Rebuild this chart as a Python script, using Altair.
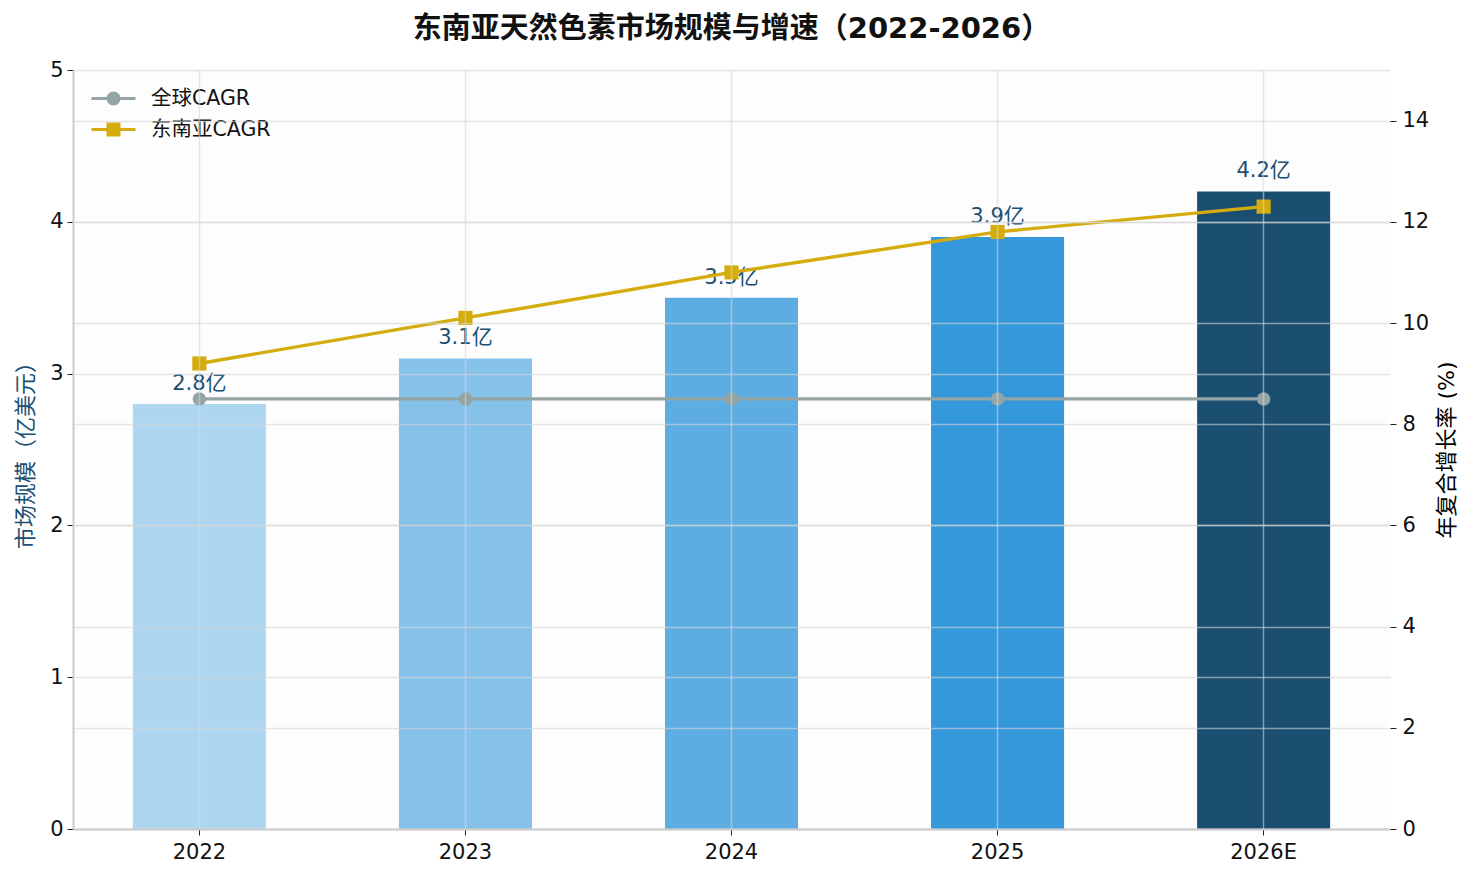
import altair as alt
import pandas as pd

years = ["2022", "2023", "2024", "2025", "2026E"]
market_size = [2.8, 3.1, 3.5, 3.9, 4.2]
size_labels = ["2.8亿", "3.1亿", "3.5亿", "3.9亿", "4.2亿"]
bar_colors = ["#AED6F1", "#85C1E9", "#5DADE2", "#3498DB", "#1B4F72"]

series_names = ["全球CAGR", "东南亚CAGR"]
series_colors = ["#95A5A6", "#D4AC0D"]
global_cagr = [8.5, 8.5, 8.5, 8.5, 8.5]
sea_cagr = [9.2, 10.1, 11.0, 11.8, 12.3]

FONT = "DejaVu Sans, Noto Sans CJK SC"
LABEL_BLUE = "#1B4F72"
GRID = dict(grid=True, gridColor="#d5d5d5", gridOpacity=0.6, gridWidth=1.5, zindex=1)

bar_df = pd.DataFrame({"year": years, "size": market_size, "label": size_labels})
cagr_df = pd.DataFrame({
    "year": years * 2,
    "cagr": global_cagr + sea_cagr,
    "series": [series_names[0]] * 5 + [series_names[1]] * 5,
})

x_enc = alt.X(
    "year:N", sort=years, title=None,
    scale=alt.Scale(paddingInner=0.5, paddingOuter=0.225),
    axis=alt.Axis(labelAngle=0, bandPosition=0.5, domainColor="#cccccc", domainWidth=2,
                  tickColor="#222222", tickSize=6, labelPadding=6, **GRID),
)

bars = alt.Chart(bar_df).mark_bar().encode(
    x=x_enc,
    y=alt.Y("size:Q", title="市场规模（亿美元）", scale=alt.Scale(domain=[0, 5], nice=False),
            axis=alt.Axis(values=[0, 1, 2, 3, 4, 5], format="d", titleColor=LABEL_BLUE,
                          domainColor="#cccccc", domainWidth=2, tickColor="#222222", tickSize=6,
                          labelPadding=4, titlePadding=12, **GRID)),
    color=alt.Color("year:N", scale=alt.Scale(domain=years, range=bar_colors), legend=None),
)

labels = alt.Chart(bar_df).mark_text(baseline="bottom", dy=-10, fontSize=21, font=FONT,
                                      color=LABEL_BLUE).encode(
    x=alt.X("year:N", sort=years),
    y=alt.Y("size:Q"),
    text="label:N",
)

cagr_y = alt.Y("cagr:Q", title="年复合增长率 (%)", scale=alt.Scale(domain=[0, 15], nice=False),
               axis=alt.Axis(orient="right", values=list(range(0, 15, 2)), domain=False,
                             tickColor="#222222", tickSize=6, labelPadding=6,
                             titleAngle=270, titleBaseline="top", titlePadding=8, **GRID))

series_color = alt.Scale(domain=series_names, range=series_colors)

lines = alt.Chart(cagr_df).mark_line(strokeWidth=3.4).encode(
    x=alt.X("year:N", sort=years),
    y=cagr_y,
    color=alt.Color("series:N", scale=series_color, legend=None),
)

points = alt.Chart(cagr_df).mark_point(filled=True, opacity=1).encode(
    x=alt.X("year:N", sort=years),
    y=alt.Y("cagr:Q"),
    color=alt.Color("series:N", scale=series_color, legend=None),
    shape=alt.Shape("series:N", scale=alt.Scale(domain=series_names, range=["circle", "square"]), legend=None),
    size=alt.Size("series:N", scale=alt.Scale(domain=series_names, range=[180, 200]), legend=None),
)

# legend symbols: a line with a marker on it (stroked rings fill the marker)
circle_line = ("M-1,0H3M1.5,0A0.5,0.5,0,1,1,0.5,0A0.5,0.5,0,1,1,1.5,0"
               "M1.25,0A0.25,0.25,0,1,1,0.75,0A0.25,0.25,0,1,1,1.25,0")
square_line = "M-1,0H3M0.5,-0.5H1.5V0.5H0.5ZM0.75,-0.25H1.25V0.25H0.75Z"

legend = alt.Legend(title=None, orient="none", legendX=17, legendY=16,
                    symbolSize=484, symbolStrokeWidth=3, labelOffset=36,
                    labelFontSize=20.5, labelFont=FONT, labelColor="#111111")

legend_layer = alt.Chart(cagr_df).transform_filter("false").mark_point(
    filled=False, strokeWidth=3, size=484, opacity=1
).encode(
    x=alt.X("year:N", sort=years),
    y=alt.Y("cagr:Q"),
    color=alt.Color("series:N", scale=series_color, legend=legend),
    shape=alt.Shape("series:N", scale=alt.Scale(domain=series_names, range=[circle_line, square_line]),
                    legend=legend),
)

left = alt.layer(bars, labels)
right = alt.layer(lines, points, legend_layer).resolve_scale(shape="independent", color="independent")

chart = alt.layer(left, right).resolve_scale(y="independent", color="independent").properties(
    width=1317,
    height=759,
    padding={"left": 6, "top": 7, "right": 5, "bottom": 5},
    title=alt.Title("东南亚天然色素市场规模与增速（2022-2026）", fontSize=29, fontWeight="bold",
                    font=FONT, color="#111111", anchor="middle", offset=15),
).configure_view(
    fill="#fdfdfd", stroke=None
).configure_axis(
    labelFont=FONT, titleFont=FONT, labelFontSize=21, titleFontSize=22,
    labelColor="#111111", titleFontWeight="normal",
).configure_legend(
    rowPadding=7
)

chart.save("out.html", embed_options={"renderer": "svg", "actions": False})
